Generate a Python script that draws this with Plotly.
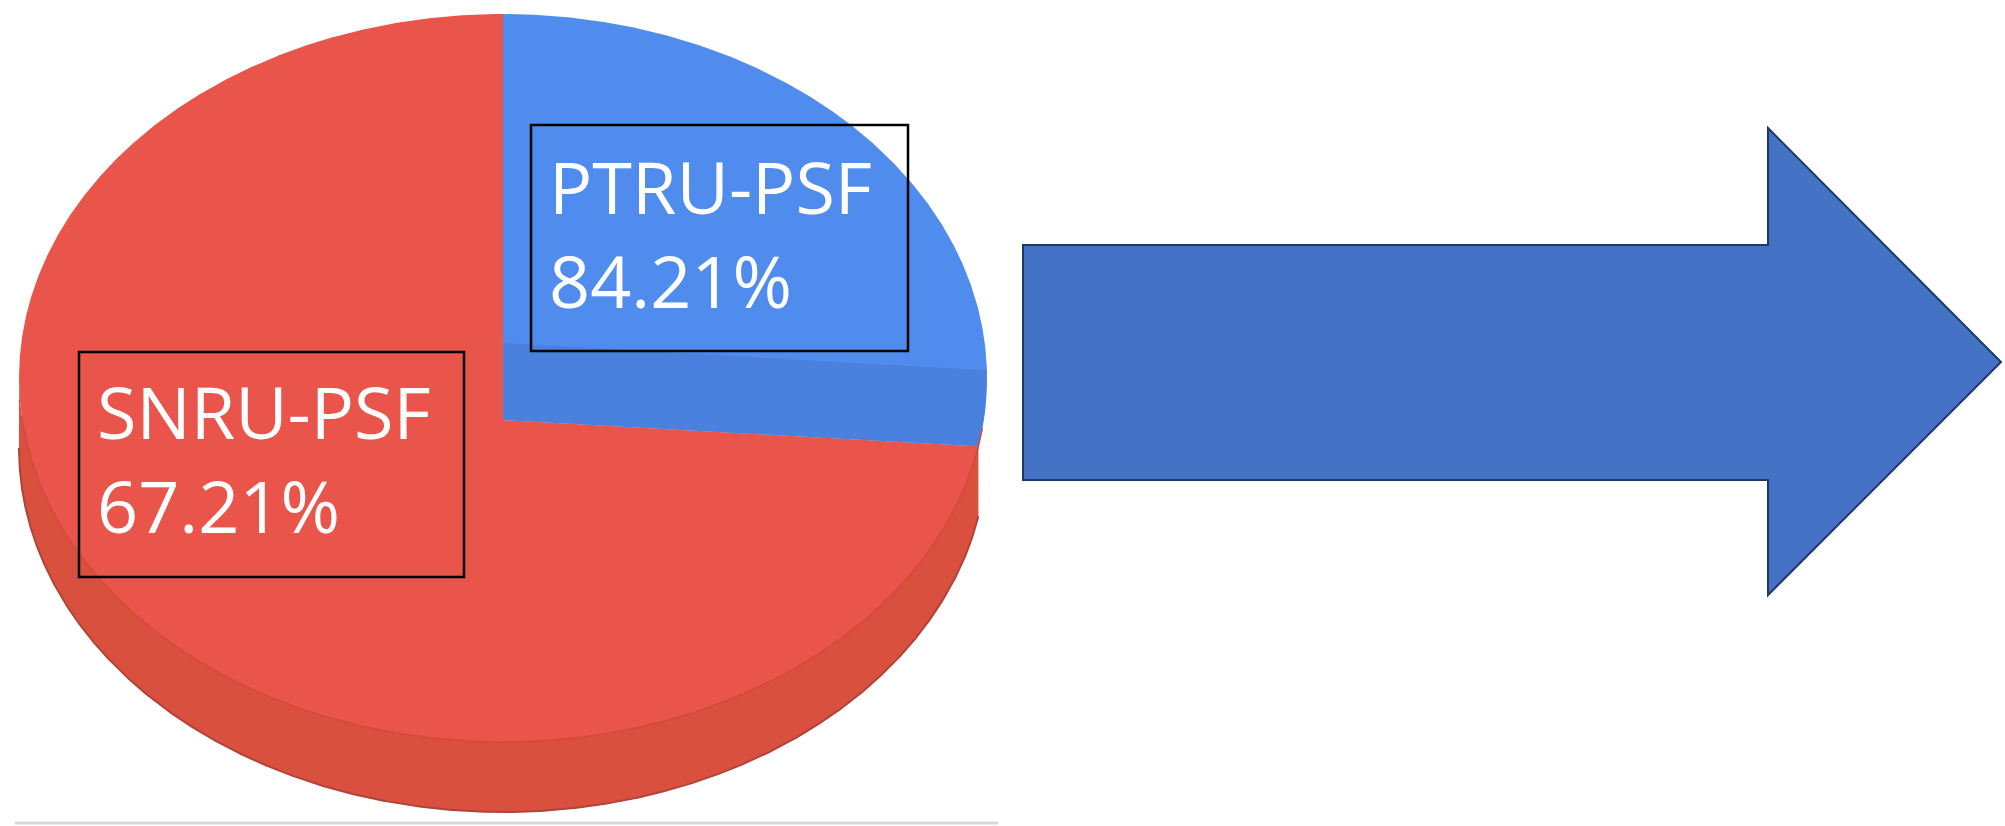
import numpy as np
import plotly.graph_objects as go

# ---- data ----
labels = ["PTRU-PSF", "SNRU-PSF"]
label_values = ["84.21%", "67.21%"]
shares = [28, 72]            # visual share of the pie occupied by each slice
slice_colors = ["#508CEE", "#E9554A"]

# ---- geometry / style constants (canvas units = pixels) ----
W, H = 2005, 826
CX, CY, RX, RY = 503, 378, 484, 364     # top-face ellipse
VX, VY = 503, 420                       # apparent apex of the slices
DEPTH = 70                              # thickness of the pie wall
CUT = 77                                # visible cut face of the blue slice
WALL_COLOR = "#D9503F"
CUT_COLOR = "#4A80DE"
NPTS = 1500


def pt(t_deg, dy=0.0):
    t = np.radians(t_deg)
    return CX + RX * np.cos(t), CY - RY * np.sin(t) + dy


fig = go.Figure()

# slice angle ranges, clockwise from 12 o'clock
start = 90.0
slice_ranges = []
for s in shares:
    end = start - 360.0 * s / sum(shares)
    slice_ranges.append((start, end))
    start = end
s0, e0 = slice_ranges[0]

# side wall (front half of the cylinder), up to the end of the first slice
tw = np.linspace(180, 360 + e0, NPTS)
wx1, wy1 = pt(tw)
wx2, wy2 = pt(tw[::-1], DEPTH)
fig.add_trace(go.Scatter(x=np.r_[wx1, wx2], y=np.r_[wy1, wy2], fill="toself",
                         fillcolor=WALL_COLOR, mode="lines",
                         line=dict(color=WALL_COLOR, width=0), hoverinfo="skip"))
# darker outer rim of the wall
fig.add_trace(go.Scatter(x=wx2, y=wy2, mode="lines",
                         line=dict(color="#B0433A", width=2), hoverinfo="skip"))

# slices
for lab, col, (a0, a1) in zip(labels, slice_colors, slice_ranges):
    ts = np.linspace(a0, a1, NPTS)
    ax_, ay_ = pt(ts)
    fig.add_trace(go.Scatter(x=np.r_[VX, ax_, VX], y=np.r_[VY, ay_, VY],
                             fill="toself", fillcolor=col, mode="lines",
                             line=dict(color=col, width=0), name=lab,
                             hoverinfo="name"))

# visible cut face of the first slice (band parallel to its trailing edge)
ex, ey = pt(e0)
slope = (ey - VY) / (ex - VX)
tt = np.linspace(e0, e0 + 40, 4000)
px_, py_ = pt(tt)
above = py_ - (VY - CUT + slope * (px_ - VX))
idx = np.argmax(above < 0)
tb = tt[:idx + 1]
bx, by = pt(tb[::-1])
fig.add_trace(go.Scatter(x=np.r_[VX, bx, VX], y=np.r_[VY - CUT, by, VY],
                         fill="toself", fillcolor=CUT_COLOR, mode="lines",
                         line=dict(color=CUT_COLOR, width=0), hoverinfo="skip"))

# faint rim line between top face and wall
tl = np.linspace(186, 352, NPTS)
lx, ly = pt(tl)
fig.add_trace(go.Scatter(x=lx, y=ly, mode="lines",
                         line=dict(color="#D4473B", width=1.5), hoverinfo="skip"))

# label boxes and texts
boxes = [(531, 125, 908, 351), (79, 352, 464, 577)]
text_pos = [(547, 233), (95, 458)]
shapes = []
annotations = []
for (x0, y0, x1, y1), (tx, ty), lab, val in zip(boxes, text_pos, labels, label_values):
    shapes.append(dict(type="rect", xref="x", yref="y", x0=x0, y0=y0, x1=x1, y1=y1,
                       line=dict(color="black", width=2.5), fillcolor="rgba(0,0,0,0)"))
    annotations.append(dict(x=tx, y=ty, xref="x", yref="y", text=f"{lab}<br>{val}",
                            showarrow=False, xanchor="left", yanchor="middle", align="left",
                            font=dict(family="Open Sans", size=72, color="white")))

# block arrow
shapes.append(dict(type="path", xref="x", yref="y",
                   path="M1023,245 L1768,245 L1768,128 L2001,362 L1768,595 L1768,480 L1023,480 Z",
                   fillcolor="#4472C4", line=dict(color="#1F3864", width=2)))
# faint base line
shapes.append(dict(type="line", xref="x", yref="y", x0=15, x1=998, y0=823, y1=823,
                   line=dict(color="#D9D9D9", width=3)))

fig.update_layout(
    width=W, height=H, margin=dict(l=0, r=0, t=0, b=0),
    paper_bgcolor="white", plot_bgcolor="white", showlegend=False,
    xaxis=dict(range=[0, W], visible=False, fixedrange=True),
    yaxis=dict(range=[H, 0], visible=False, fixedrange=True),
    shapes=shapes, annotations=annotations,
)

fig.write_html("out.html", config={"displayModeBar": False},
               post_script="document.body.style.margin='0';document.body.style.overflow='hidden';")
